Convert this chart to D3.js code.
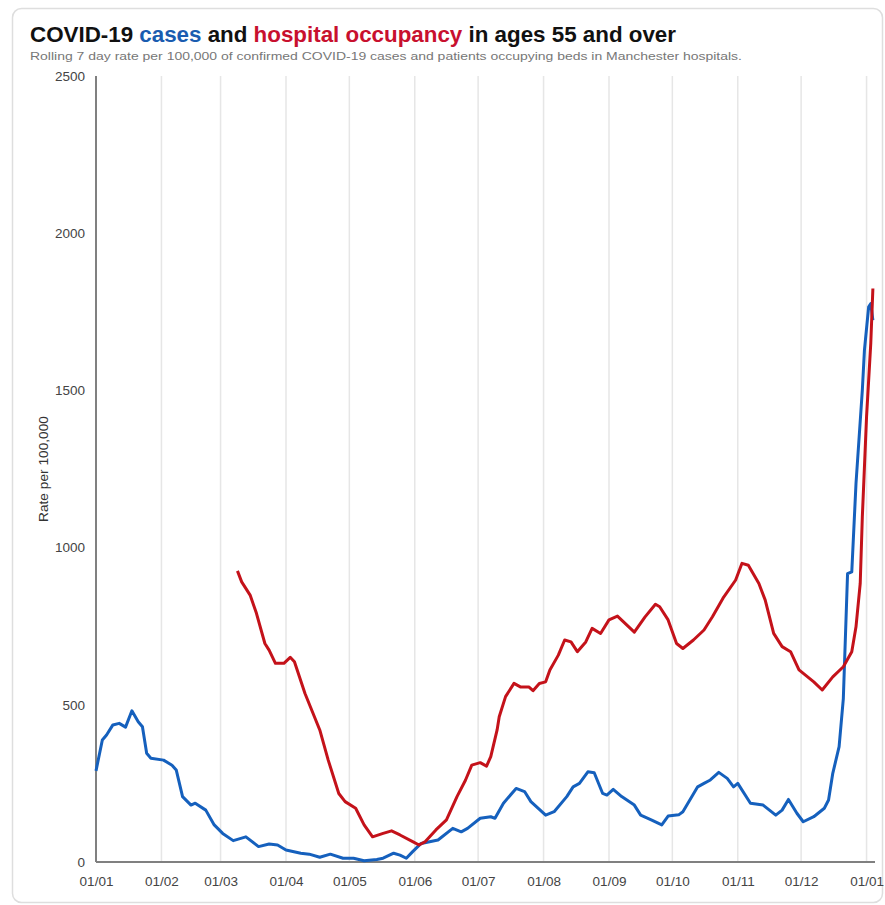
<!DOCTYPE html>
<html>
<head>
<meta charset="utf-8">
<script src="https://cdn.jsdelivr.net/npm/d3@7"></script>
<style>
    body { margin: 0; background: #fff; font-family: "Liberation Sans", Arial, sans-serif; }
    .tickLabel { font-size: 13.5px; fill: #444; }
</style>
</head>
<body>
<div id="chartDiv"></div>
<script>
// cases, rolling 7 day rate per 100,000 (ages 55+)
const caseDates = [
    "2021-01-01", "2021-01-04", "2021-01-06", "2021-01-09", "2021-01-12", "2021-01-15", "2021-01-18",
    "2021-01-21", "2021-01-23", "2021-01-25", "2021-01-27", "2021-02-02", "2021-02-06", "2021-02-08",
    "2021-02-11", "2021-02-15", "2021-02-17", "2021-02-22", "2021-02-26", "2021-03-02", "2021-03-07",
    "2021-03-13", "2021-03-19", "2021-03-24", "2021-03-28", "2021-04-01", "2021-04-08", "2021-04-12",
    "2021-04-17", "2021-04-22", "2021-04-28", "2021-05-03", "2021-05-08", "2021-05-14", "2021-05-17",
    "2021-05-22", "2021-05-25", "2021-05-28", "2021-05-31", "2021-06-04", "2021-06-12", "2021-06-19",
    "2021-06-23", "2021-06-26", "2021-07-02", "2021-07-07", "2021-07-09", "2021-07-13", "2021-07-19",
    "2021-07-23", "2021-07-26", "2021-08-02", "2021-08-06", "2021-08-12", "2021-08-15", "2021-08-18",
    "2021-08-22", "2021-08-25", "2021-08-29", "2021-08-31", "2021-09-03", "2021-09-07", "2021-09-13",
    "2021-09-16", "2021-09-21", "2021-09-26", "2021-09-29", "2021-10-04", "2021-10-06", "2021-10-13",
    "2021-10-16", "2021-10-19", "2021-10-23", "2021-10-27", "2021-10-30", "2021-11-01", "2021-11-07",
    "2021-11-13", "2021-11-19", "2021-11-22", "2021-11-25", "2021-11-29", "2021-12-02", "2021-12-07",
    "2021-12-12", "2021-12-14", "2021-12-16", "2021-12-19", "2021-12-21", "2021-12-23", "2021-12-25",
    "2021-12-27", "2021-12-30", "2021-12-31", "2022-01-02", "2022-01-03", "2022-01-04"
];
const caseValues = [
    290, 388, 404, 436, 441, 429, 481,
    446, 430, 346, 330, 324, 308, 293,
    208, 181, 187, 165, 118, 91, 68,
    80, 49, 57, 54, 38, 28, 25,
    15, 25, 12, 12, 4, 8, 12,
    28, 22, 12, 33, 59, 70, 107,
    96, 107, 139, 144, 139, 187, 234,
    224, 192, 149, 160, 208, 239, 250,
    287, 284, 218, 213, 231, 208, 181,
    149, 134, 118, 146, 150, 160, 239,
    250, 261, 285, 266, 239, 250, 187,
    181, 149, 165, 199, 155, 128, 144,
    171, 197, 282, 367, 520, 917, 923,
    1204, 1501, 1628, 1766, 1776, 1723
];

// hospital bed occupancy, rate per 100,000
const hospDates = [
    "2021-03-09", "2021-03-11", "2021-03-15", "2021-03-18", "2021-03-22", "2021-03-24", "2021-03-27",
    "2021-03-31", "2021-04-03", "2021-04-05", "2021-04-10", "2021-04-17", "2021-04-21", "2021-04-26",
    "2021-04-29", "2021-05-04", "2021-05-08", "2021-05-12", "2021-05-17", "2021-05-21", "2021-05-25",
    "2021-05-31", "2021-06-03", "2021-06-06", "2021-06-11", "2021-06-16", "2021-06-21", "2021-06-25",
    "2021-06-28", "2021-07-02", "2021-07-05", "2021-07-07", "2021-07-10", "2021-07-11", "2021-07-14",
    "2021-07-18", "2021-07-21", "2021-07-25", "2021-07-27", "2021-07-30", "2021-08-02", "2021-08-04",
    "2021-08-08", "2021-08-11", "2021-08-14", "2021-08-17", "2021-08-21", "2021-08-24", "2021-08-28",
    "2021-09-01", "2021-09-05", "2021-09-08", "2021-09-13", "2021-09-18", "2021-09-23", "2021-09-25",
    "2021-09-29", "2021-10-03", "2021-10-06", "2021-10-11", "2021-10-16", "2021-10-20", "2021-10-25",
    "2021-10-31", "2021-11-03", "2021-11-06", "2021-11-11", "2021-11-14", "2021-11-18", "2021-11-22",
    "2021-11-26", "2021-11-30", "2021-12-07", "2021-12-11", "2021-12-16", "2021-12-21", "2021-12-25",
    "2021-12-27", "2021-12-29", "2021-12-30", "2022-01-01", "2022-01-03", "2022-01-04"
];
const hospValues = [
    926, 891, 849, 791, 695, 674, 632,
    632, 651, 637, 536, 420, 324, 218,
    192, 171, 118, 80, 91, 99, 86,
    65, 54, 65, 102, 134, 208, 260,
    308, 316, 305, 335, 420, 462, 526,
    568, 557, 557, 545, 568, 573, 611,
    658, 706, 700, 669, 700, 743, 727,
    770, 782, 763, 731, 779, 820, 812,
    770, 695, 679, 706, 738, 780, 839,
    897, 950, 944, 886, 833, 727, 685,
    669, 611, 573, 547, 589, 621, 669,
    748, 886, 1098, 1416, 1650, 1824
];

const monthTicks = [
    "2021-01-01", "2021-02-01", "2021-03-01", "2021-04-01", "2021-05-01", "2021-06-01", "2021-07-01",
    "2021-08-01", "2021-09-01", "2021-10-01", "2021-11-01", "2021-12-01", "2022-01-01"
];
const monthLabels = ["01/01", "01/02", "01/03", "01/04", "01/05", "01/06", "01/07",
    "01/08", "01/09", "01/10", "01/11", "01/12", "01/01"];
const yTicks = [0, 500, 1000, 1500, 2000, 2500];

const parseTime = d3.timeParse("%Y-%m-%d");

let cases = caseDates.map((d, i) => ({date: parseTime(d), value: caseValues[i]}));
let hosp = hospDates.map((d, i) => ({date: parseTime(d), value: hospValues[i]}));
let ticks = monthTicks.map(parseTime);

const width = 885;
const height = 905;
const margin = {top: 76, right: 10, bottom: 43, left: 96};

let svg = d3.select("#chartDiv").append("svg")
    .attr("width", width)
    .attr("height", height);

// card
svg.append("rect")
    .attr("x", 12.5)
    .attr("y", 8.5)
    .attr("width", 870)
    .attr("height", 894)
    .attr("rx", 9)
    .style("fill", "#fff")
    .style("stroke", "#dedede")
    .style("stroke-width", 1.5);

// title
let title = svg.append("text")
    .attr("x", 30)
    .attr("y", 42)
    .attr("textLength", 646)
    .attr("lengthAdjust", "spacingAndGlyphs")
    .style("font-size", "21.5px")
    .style("font-weight", "bold")
    .style("fill", "#111");
title.append("tspan").text("COVID-19 ");
title.append("tspan").style("fill", "#1a5cb0").text("cases");
title.append("tspan").text(" and ");
title.append("tspan").style("fill", "#c8102e").text("hospital occupancy");
title.append("tspan").text(" in ages 55 and over");

svg.append("text")
    .attr("x", 30)
    .attr("y", 60)
    .attr("textLength", 712)
    .attr("lengthAdjust", "spacingAndGlyphs")
    .style("font-size", "11px")
    .style("fill", "#777")
    .text("Rolling 7 day rate per 100,000 of confirmed COVID-19 cases and patients occupying beds in Manchester hospitals.");

let x = d3.scaleTime()
    .domain([parseTime("2021-01-01"), parseTime("2022-01-05")])
    .range([margin.left, width - margin.right]);

let y = d3.scaleLinear()
    .domain([0, 2500])
    .range([height - margin.bottom, margin.top]);

// vertical month grid
svg.append("g")
    .selectAll("line")
    .data(ticks.slice(1))
    .enter()
    .append("line")
    .attr("x1", d => x(d))
    .attr("x2", d => x(d))
    .attr("y1", y(2500))
    .attr("y2", y(0))
    .style("stroke", "#e6e6e6")
    .style("stroke-width", 1.5);

let xAxis = d3.axisBottom(x)
    .tickValues(ticks)
    .tickSize(0)
    .tickPadding(14)
    .tickFormat((d, i) => monthLabels[i]);

let yAxis = d3.axisLeft(y)
    .tickValues(yTicks)
    .tickSize(0)
    .tickPadding(11)
    .tickFormat(d => d);

let gx = svg.append("g")
    .attr("transform", `translate(0, ${y(0)})`)
    .call(xAxis);
gx.select(".domain").remove();
gx.selectAll("text").attr("class", "tickLabel").attr("font-family", null).attr("font-size", null);

let gy = svg.append("g")
    .attr("transform", `translate(${margin.left}, 0)`)
    .call(yAxis);
gy.select(".domain").remove();
gy.selectAll("text").attr("class", "tickLabel").attr("font-family", null).attr("font-size", null);

// axis lines
svg.append("line")
    .attr("x1", margin.left)
    .attr("x2", margin.left)
    .attr("y1", y(2500))
    .attr("y2", y(0))
    .style("stroke", "#808080")
    .style("stroke-width", 2);

svg.append("line")
    .attr("x1", margin.left)
    .attr("x2", width - margin.right)
    .attr("y1", y(0))
    .attr("y2", y(0))
    .style("stroke", "#808080")
    .style("stroke-width", 2);

svg.append("text")
    .attr("transform", `translate(48, ${(y(1500) + y(1000)) / 2}) rotate(-90)`)
    .attr("textLength", 106)
    .attr("lengthAdjust", "spacingAndGlyphs")
    .style("text-anchor", "middle")
    .style("font-size", "12px")
    .style("fill", "#333")
    .text("Rate per 100,000");

let line = d3.line()
    .x(d => x(d.date))
    .y(d => y(d.value));

svg.append("path")
    .datum(cases)
    .attr("d", line)
    .style("fill", "none")
    .style("stroke", "#1560bd")
    .style("stroke-width", 3)
    .style("stroke-linejoin", "round");

svg.append("path")
    .datum(hosp)
    .attr("d", line)
    .style("fill", "none")
    .style("stroke", "#c4121a")
    .style("stroke-width", 3)
    .style("stroke-linejoin", "round");
</script>
</body>
</html>
